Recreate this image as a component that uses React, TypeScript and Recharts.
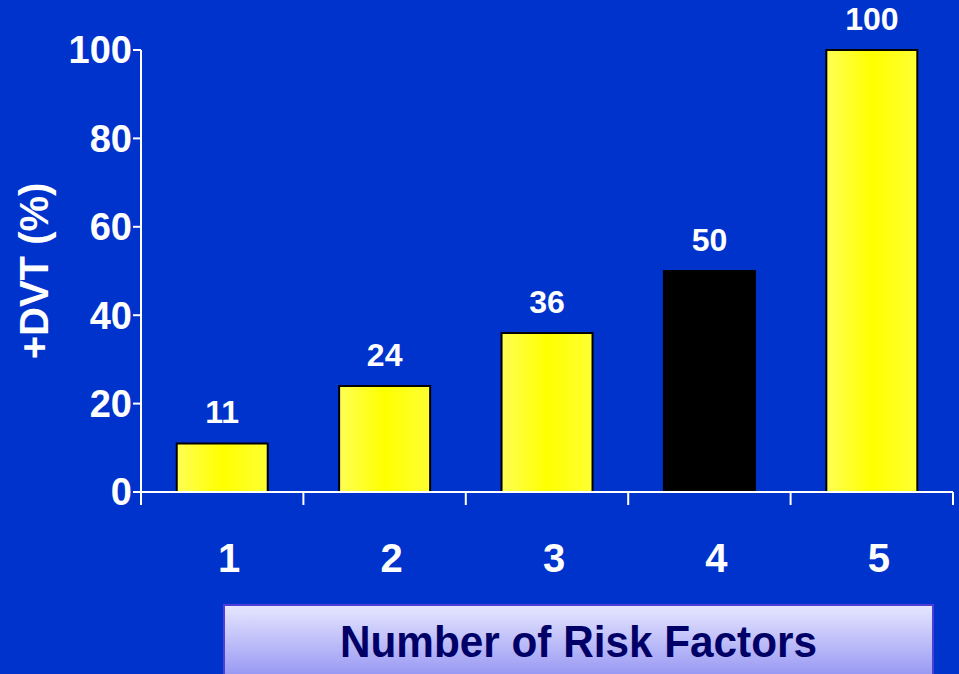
import { BarChart, Bar, XAxis, YAxis, LabelList, Cell } from 'recharts'

const riskFactors = ['1', '2', '3', '4', '5']
const dvtPercent = [11, 24, 36, 50, 100]
const highlighted = [false, false, false, true, false]
const yTicks = [0, 20, 40, 60, 80, 100]

const data = riskFactors.map((k, i) => ({ k, v: dvtPercent[i], dark: highlighted[i] }))

const W = 959
const H = 674
const LEFT = 141
const RIGHT = 6
const band = (W - LEFT - RIGHT) / riskFactors.length
const font = '"Liberation Sans", Arial, sans-serif'

function XTick(props: any) {
  const { x, y, payload, index } = props
  const last = index === riskFactors.length - 1
  return (
    <g>
      <line x1={x - band / 2} x2={x - band / 2} y1={y} y2={y + 13} stroke="#fff" strokeWidth={2} />
      {last && <line x1={x + band / 2} x2={x + band / 2} y1={y} y2={y + 13} stroke="#fff" strokeWidth={2} />}
      <text x={x + 7} y={y + 80} textAnchor="middle" fill="#fff" fontFamily={font} fontWeight="bold" fontSize={40}>
        {payload.value}
      </text>
    </g>
  )
}

function YLabel(props: any) {
  const { viewBox } = props
  const cy = viewBox.y + viewBox.height / 2
  return (
    <text
      x={34}
      y={cy}
      transform={`rotate(-90, 34, ${cy})`}
      textAnchor="middle"
      dominantBaseline="central"
      fill="#fff"
      fontFamily={font}
      fontWeight="bold"
      fontSize={40}
    >
      +DVT (%)
    </text>
  )
}

export default function App() {
  return (
    <div style={{ position: 'relative', width: W, height: H, background: '#0033CC', overflow: 'hidden' }}>
      <style>{'body{margin:0}'}</style>
      <BarChart
        width={W}
        height={H}
        data={data}
        margin={{ top: 50, right: RIGHT, bottom: 102, left: 0 }}
        barCategoryGap="22%"
      >
        <defs>
          <linearGradient id="yellowBar" x1="0" y1="0" x2="1" y2="0">
            <stop offset="0%" stopColor="#FFFF55" />
            <stop offset="50%" stopColor="#FFFF00" />
            <stop offset="100%" stopColor="#FFFF33" />
          </linearGradient>
        </defs>
        <XAxis
          dataKey="k"
          height={80}
          axisLine={{ stroke: '#fff', strokeWidth: 2 }}
          tickLine={false}
          tickSize={0}
          tickMargin={0}
          tick={<XTick />}
          interval={0}
        />
        <YAxis
          width={LEFT}
          domain={[0, 100]}
          ticks={yTicks}
          interval={0}
          axisLine={{ stroke: '#fff', strokeWidth: 2 }}
          tickLine={{ stroke: '#fff', strokeWidth: 2 }}
          tickSize={8}
          tickMargin={1}
          tick={{ fill: '#fff', fontFamily: font, fontWeight: 'bold', fontSize: 38 }}
          label={<YLabel />}
        />
        <Bar dataKey="v" stroke="#000" strokeWidth={2} isAnimationActive={false}>
          {data.map((d) => (
            <Cell key={d.k} fill={d.dark ? '#000' : 'url(#yellowBar)'} />
          ))}
          <LabelList
            dataKey="v"
            position="top"
            offset={20}
            fill="#fff"
            fontFamily={font}
            fontWeight="bold"
            fontSize={32}
          />
        </Bar>
      </BarChart>
      <div
        style={{
          position: 'absolute',
          left: 223,
          top: 604,
          width: 707,
          height: 80,
          border: '2px solid #4A3FD6',
          background: 'linear-gradient(#E6E6FF, #8C8CF2)',
        }}
      >
        <svg width={707} height={80} style={{ display: 'block' }}>
          <text
            x={353.5}
            y={51}
            textAnchor="middle"
            textLength={477}
            lengthAdjust="spacingAndGlyphs"
            fill="#000066"
            fontFamily={font}
            fontWeight="bold"
            fontSize={44}
          >
            Number of Risk Factors
          </text>
        </svg>
      </div>
    </div>
  )
}
